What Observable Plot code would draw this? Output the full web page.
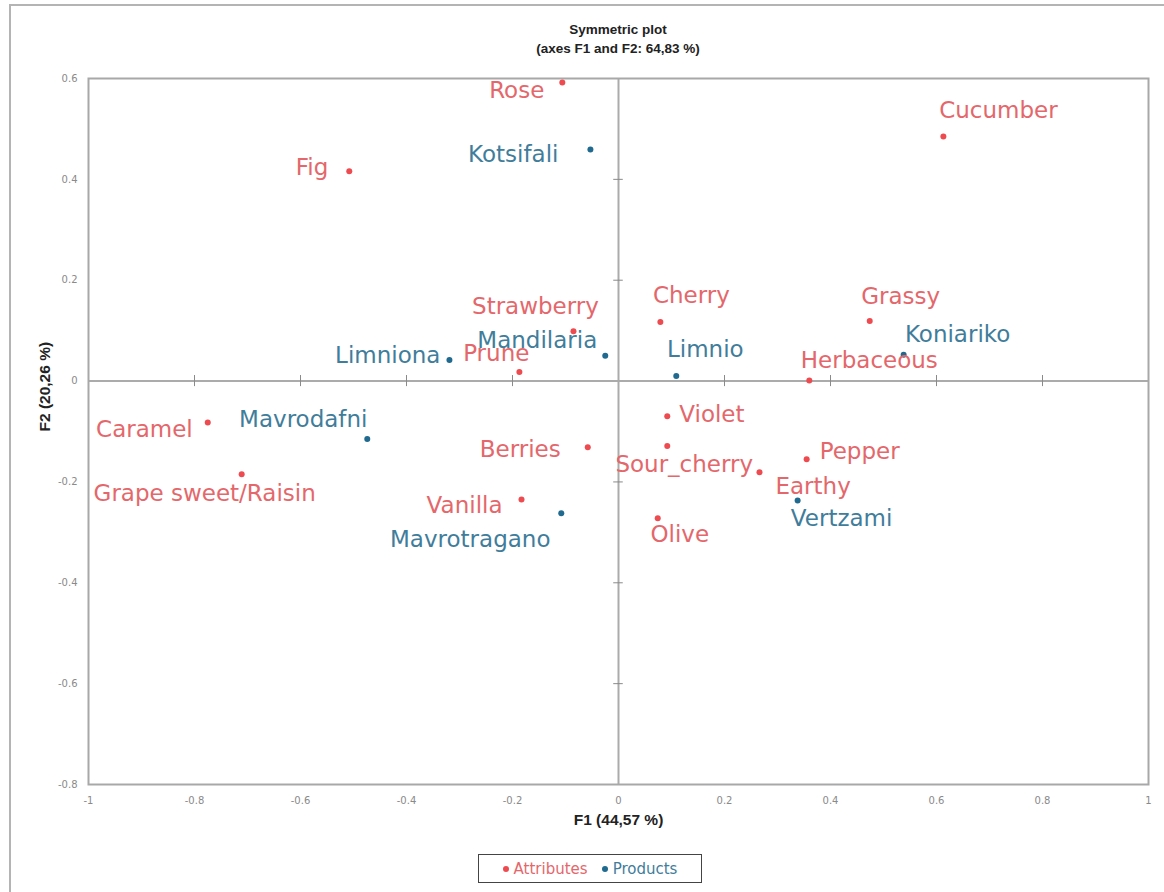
<!DOCTYPE html>
<html>
<head>
<meta charset="utf-8">
<script src="https://cdn.jsdelivr.net/npm/d3@7"></script>
<script src="https://cdn.jsdelivr.net/npm/@observablehq/plot@0.6"></script>
<style>
  html, body { margin: 0; padding: 0; background: #fff; }
  body { width: 1164px; height: 892px; position: relative; overflow: hidden; font-family: "DejaVu Sans", sans-serif; }
  #border { position: absolute; left: 9px; top: 4px; width: 1200px; height: 950px; border-left: 2px solid #b4b4b4; border-top: 2px solid #b4b4b4; }
  #chart { position: absolute; left: 0; top: 0; }
  .title { position: absolute; left: 0; width: 1236px; text-align: center; font-family: "Liberation Sans", Arial, sans-serif; font-weight: bold; font-size: 13.5px; color: #222; }
  #legend { position: absolute; left: 478px; top: 854px; width: 224px; height: 29px; border: 1.5px solid #444; box-sizing: border-box; display: flex; align-items: center; justify-content: center; gap: 14px; font-size: 15px; }
  #legend span.item { display: inline-flex; align-items: center; }
  #legend .dot { display: inline-block; width: 6px; height: 6px; border-radius: 50%; margin-right: 5px; }
</style>
</head>
<body>
<div id="border"></div>
<div id="chart"></div>
<div class="title" style="top:22px;">Symmetric plot</div>
<div class="title" style="top:41px;">(axes F1 and F2: 64,83 %)</div>
<div id="legend"></div>
<script>
// ---- data ----
const attrNames = ["Rose", "Cucumber", "Fig", "Strawberry", "Cherry", "Grassy", "Prune", "Herbaceous",
  "Caramel", "Violet", "Berries", "Sour_cherry", "Pepper", "Earthy", "Grape sweet/Raisin", "Vanilla", "Olive"];
const attrF1 = [-0.106, 0.613, -0.508, -0.085, 0.079, 0.474, -0.187, 0.360,
  -0.775, 0.092, -0.058, 0.092, 0.355, 0.266, -0.711, -0.183, 0.074];
const attrF2 = [0.592, 0.485, 0.416, 0.099, 0.117, 0.119, 0.018, 0.001,
  -0.082, -0.070, -0.131, -0.129, -0.155, -0.181, -0.185, -0.235, -0.272];

const prodNames = ["Kotsifali", "Mandilaria", "Limniona", "Limnio", "Koniariko", "Mavrodafni", "Vertzami", "Mavrotragano"];
const prodF1 = [-0.053, -0.025, -0.319, 0.109, 0.538, -0.474, 0.338, -0.108];
const prodF2 = [0.459, 0.050, 0.042, 0.010, 0.052, -0.115, -0.237, -0.262];

const xTicks = [-1, -0.8, -0.6, -0.4, -0.2, 0, 0.2, 0.4, 0.6, 0.8, 1];
const yTicks = [-0.8, -0.6, -0.4, -0.2, 0, 0.2, 0.4, 0.6];

const seriesNames = ["Attributes", "Products"];
const xTitle = "F1 (44,57 %)";
const yTitle = "F2 (20,26 %)";

// ---- styles / label placement (anchor, dx, dy in px) ----
const colors = {Attributes: {dot: "#ee4b50", text: "#e4676b"}, Products: {dot: "#1f6a8e", text: "#3f7d9b"}};
const placement = {
  "Rose": ["end", -18, 8], "Fig": ["end", -21, -4], "Kotsifali": ["end", -32, 5],
  "Cucumber": ["middle", 55, -26], "Grassy": ["middle", 31, -24], "Koniariko": ["middle", 54, -20],
  "Herbaceous": ["middle", 60, -20], "Caramel": ["end", -15, 7], "Mavrodafni": ["middle", -64, -19],
  "Grape sweet/Raisin": ["middle", -37, 19], "Berries": ["end", -27, 2], "Vanilla": ["end", -19, 6],
  "Mavrotragano": ["middle", -91, 26], "Limniona": ["end", -9, -4], "Prune": ["end", 10, -18],
  "Mandilaria": ["end", -8, -15], "Strawberry": ["middle", -38, -25], "Cherry": ["middle", 31, -26],
  "Limnio": ["middle", 29, -26], "Violet": ["start", 12, -2], "Sour_cherry": ["middle", 17, 19],
  "Earthy": ["start", 16, 14], "Pepper": ["start", 13, -8], "Vertzami": ["middle", 44, 18],
  "Olive": ["middle", 22, 16]
};

const attributes = attrNames.map((n, i) => ({name: n, x: attrF1[i], y: attrF2[i], series: "Attributes"}));
const products = prodNames.map((n, i) => ({name: n, x: prodF1[i], y: prodF2[i], series: "Products"}));
const all = attributes.concat(products);

const labelFont = "DejaVu Sans, sans-serif";
const labelMarks = all.map(d => {
  const p = placement[d.name];
  return Plot.text([d], {
    x: "x", y: "y", text: "name", fill: colors[d.series].text,
    textAnchor: p[0], dx: p[1], dy: p[2], fontSize: 23, fontFamily: labelFont
  });
});

const innerTicksX = xTicks.filter(v => v !== 0 && Math.abs(v) !== 1);
const innerTicksY = yTicks.filter(v => v !== 0 && v !== -0.8 && v !== 0.6);

const chart = Plot.plot({
  width: 1164,
  height: 892,
  marginLeft: 88,
  marginRight: 16,
  marginTop: 78,
  marginBottom: 108,
  x: {domain: [-1, 1]},
  y: {domain: [-0.8, 0.6]},
  style: {background: "transparent", fontFamily: "DejaVu Sans, sans-serif"},
  marks: [
    Plot.axisX(xTicks, {tickSize: 0, tickPadding: 12, fontSize: 10, fill: "#8a8a8a", label: null, tickFormat: d => String(d)}),
    Plot.axisY(yTicks, {tickSize: 0, tickPadding: 11, fontSize: 10, fill: "#8a8a8a", label: null, tickFormat: d => String(d)}),
    Plot.ruleX([0], {stroke: "#ababab", strokeWidth: 2}),
    Plot.ruleY([0], {stroke: "#ababab", strokeWidth: 2}),
    Plot.ruleX(innerTicksX, {x: d => d, y1: -0.011, y2: 0.011, stroke: "#8a8a8a", strokeWidth: 1}),
    Plot.ruleY(innerTicksY, {y: d => d, x1: -0.009, x2: 0.009, stroke: "#8a8a8a", strokeWidth: 1}),
    Plot.frame({stroke: "#a8a8a8", strokeWidth: 2}),
    Plot.text([xTitle], {frameAnchor: "bottom", dy: 40, text: d => d, fontSize: 15.5, fontWeight: "bold", fontFamily: "Liberation Sans, Arial, sans-serif", fill: "#222"}),
    Plot.text([yTitle], {frameAnchor: "left", dx: -43, rotate: -90, text: d => d, fontSize: 15.5, fontWeight: "bold", fontFamily: "Liberation Sans, Arial, sans-serif", fill: "#222"}),
    Plot.dot(attributes, {x: "x", y: "y", r: 3, fill: colors.Attributes.dot}),
    Plot.dot(products, {x: "x", y: "y", r: 3, fill: colors.Products.dot}),
    ...labelMarks
  ]
});
document.getElementById("chart").appendChild(chart);

const legend = document.getElementById("legend");
seriesNames.forEach(s => {
  const item = document.createElement("span");
  item.className = "item";
  item.style.color = colors[s].text;
  const dot = document.createElement("span");
  dot.className = "dot";
  dot.style.background = colors[s].dot;
  item.appendChild(dot);
  item.appendChild(document.createTextNode(s));
  legend.appendChild(item);
});
</script>
</body>
</html>
